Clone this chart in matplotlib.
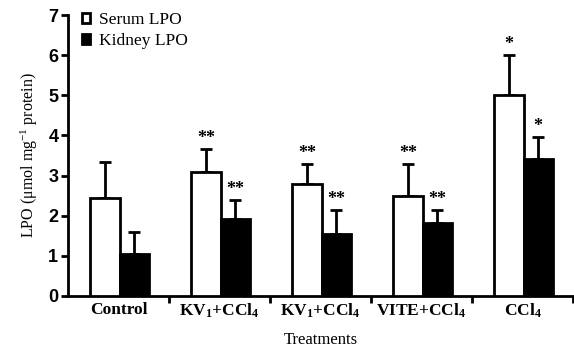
import numpy as np
import matplotlib
matplotlib.use("Agg")
import matplotlib.pyplot as plt

plt.rcParams['font.family'] = ['Liberation Serif', 'DejaVu Serif']
plt.rcParams['mathtext.fontset'] = 'custom'
plt.rcParams['mathtext.rm'] = 'Liberation Serif'
plt.rcParams['mathtext.it'] = 'Liberation Serif:italic'
plt.rcParams['mathtext.bf'] = 'Liberation Serif:bold'

# Data
groups = ['Control', r'KV$_\mathbf{1}$+CCl$_\mathbf{4}$', r'KV$_\mathbf{1}$+CCl$_\mathbf{4}$',
          r'VITE+CCl$_\mathbf{4}$', r'CCl$_\mathbf{4}$']
serum = [2.45, 3.1, 2.8, 2.5, 5.0]
serum_err = [0.88, 0.55, 0.5, 0.8, 1.0]
kidney = [1.05, 1.92, 1.55, 1.83, 3.42]
kidney_err = [0.55, 0.48, 0.58, 0.32, 0.53]
serum_sig = ['', '**', '**', '**', '*']
kidney_sig = ['', '**', '**', '**', '*']

fig = plt.figure(figsize=(5.74, 3.52), dpi=100)
ax = fig.add_axes([68/574, 1-296/352, 505/574, 281/352])

x = np.arange(len(groups))
w = 0.29
xs = x + 0.22 + w/2
xk = x + 0.51 + w/2

ax.bar(xs, serum, w, color='white', edgecolor='black', linewidth=2, label='Serum LPO', zorder=3)
ax.bar(xk, kidney, w, color='black', edgecolor='black', linewidth=2, label='Kidney LPO', zorder=3)
ax.errorbar(xs, serum, yerr=[np.zeros(5), serum_err], fmt='none', ecolor='black',
            elinewidth=2, capsize=4.5, capthick=2, zorder=2)
ax.errorbar(xk, kidney, yerr=[np.zeros(5), kidney_err], fmt='none', ecolor='black',
            elinewidth=2, capsize=4.5, capthick=2, zorder=2)

for i in range(len(groups)):
    if serum_sig[i]:
        ax.text(xs[i], serum[i] + serum_err[i] + 0.05, serum_sig[i], ha='center', va='bottom',
                fontsize=13, fontweight='bold')
    if kidney_sig[i]:
        ax.text(xk[i], kidney[i] + kidney_err[i] + 0.05, kidney_sig[i], ha='center', va='bottom',
                fontsize=13, fontweight='bold')

ax.set_xlim(0, 5)
ax.set_ylim(0, 7)
ax.set_xticks([1, 2, 3, 4, 5])
ax.set_xticklabels([])
ax.set_xticks(x + 0.5, minor=True)
ax.set_xticklabels(groups, minor=True, fontsize=12.5, fontweight='bold')
ax.tick_params(axis='x', which='minor', length=0, pad=4)
ax.tick_params(axis='x', which='major', length=5, width=2, direction='out')
ax.set_yticks(range(8))
ax.set_yticklabels([str(v) for v in range(8)], fontsize=13, fontweight='bold',
                   family='Liberation Sans')
ax.tick_params(axis='y', length=5, width=2, pad=2)

for s in ['top', 'right']:
    ax.spines[s].set_visible(False)
for s in ['left', 'bottom']:
    ax.spines[s].set_linewidth(2)

ax.set_xlabel('Treatments', fontsize=12, labelpad=9)
ax.set_ylabel(r'LPO ($\mathregular{\mu}$mol mg$^{-1}$ protein)', fontsize=11.5, labelpad=6)

leg = ax.legend(loc='upper left', frameon=False, fontsize=12.5, handlelength=0.5,
                handleheight=0.5, handletextpad=0.5, borderaxespad=0.1,
                bbox_to_anchor=(0.01, 1.04), labelspacing=0.25)

fig.savefig('out.png', dpi=100)
